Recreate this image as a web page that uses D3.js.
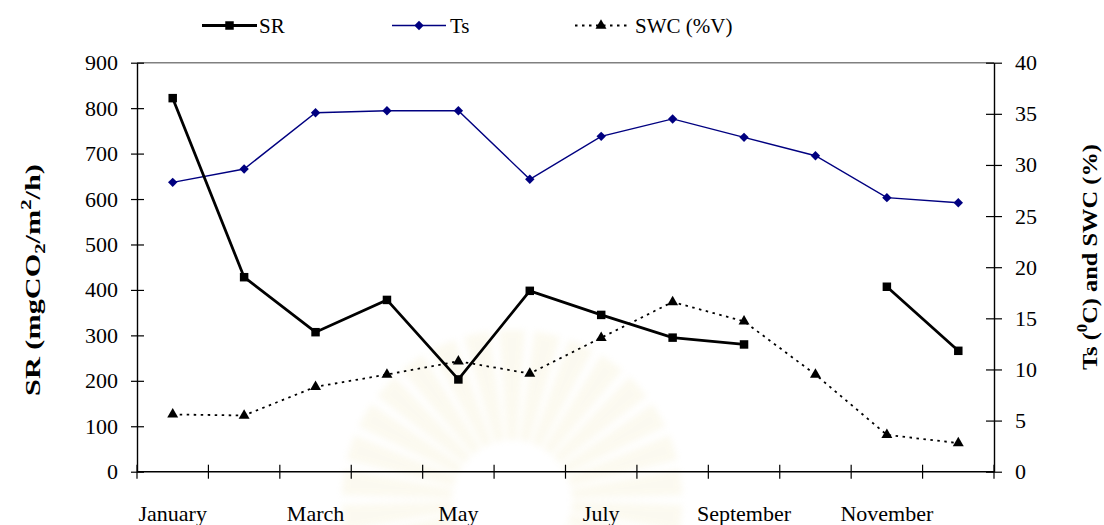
<!DOCTYPE html>
<html>
<head>
<meta charset="utf-8">
<script src="https://cdn.jsdelivr.net/npm/d3@7/dist/d3.min.js"></script>
<style>
  html, body { margin: 0; padding: 0; background: #fff; }
  svg { display: block; }
  text { font-family: "Liberation Serif", "Times New Roman", serif; fill: #000; }
</style>
</head>
<body>
<svg id="chart" width="1104" height="525"></svg>
<script>
// Monthly soil respiration, soil temperature and soil water content
const months = ["January", "February", "March", "April", "May", "June",
                "July", "August", "September", "October", "November", "December"];
const monthLabels = ["January", "", "March", "", "May", "", "July", "", "September", "", "November", ""];
const srValues  = [822, 428, 307, 378, 203, 398, 345, 295, 280, null, 407, 266];   // mgCO2/m2/h
const tsValues  = [28.3, 29.6, 35.1, 35.3, 35.3, 28.6, 32.8, 34.5, 32.7, 30.9, 26.8, 26.3]; // deg C
const swcValues = [5.6, 5.5, 8.3, 9.5, 10.8, 9.6, 13.1, 16.6, 14.7, 9.5, 3.6, 2.8];  // %V
const leftTicks  = [0, 100, 200, 300, 400, 500, 600, 700, 800, 900];
const rightTicks = [0, 5, 10, 15, 20, 25, 30, 35, 40];

const svg = d3.select("#chart");

const plot = { left: 137, right: 994, top: 62.7, bottom: 471.7 };

const x = d3.scaleBand().domain(months).range([plot.left, plot.right]).padding(0);
const yL = d3.scaleLinear().domain([0, 900]).range([plot.bottom, plot.top]);
const yR = d3.scaleLinear().domain([0, 40]).range([plot.bottom, plot.top]);
const cx = m => x(m) + x.bandwidth() / 2;

// faint seal watermark behind the plot
const defs = svg.append("defs");
defs.append("filter").attr("id", "soft").append("feGaussianBlur").attr("stdDeviation", 3);
const wm = svg.append("g").attr("transform", "translate(512,500)").attr("opacity", 0.13)
  .attr("filter", "url(#soft)");
const rays = d3.range(0, 360, 12);
wm.selectAll("path.ray").data(rays).join("path")
  .attr("class", "ray")
  .attr("d", "M-5,-60 L5,-60 L13,-170 L-13,-170 Z")
  .attr("transform", a => `rotate(${a})`)
  .attr("fill", "#e8d98f");

// plot frame: grey top edge
svg.append("line")
  .attr("x1", plot.left).attr("x2", plot.right)
  .attr("y1", plot.top).attr("y2", plot.top)
  .attr("stroke", "#808080").attr("stroke-width", 1.5);

// left axis
const axL = svg.append("g").attr("transform", `translate(${plot.left},0)`)
  .call(d3.axisLeft(yL).tickValues(leftTicks).tickSize(0).tickPadding(19));
axL.select(".domain").attr("stroke", "#000").attr("stroke-width", 1.4);
axL.selectAll(".tick text").attr("font-size", 22).attr("font-family", "Liberation Serif");
axL.selectAll(".tick").append("line").attr("x1", -6).attr("x2", 7).attr("stroke", "#000").attr("stroke-width", 1.2);

// right axis
const axR = svg.append("g").attr("transform", `translate(${plot.right},0)`)
  .call(d3.axisRight(yR).tickValues(rightTicks).tickSize(0).tickPadding(21));
axR.select(".domain").attr("stroke", "#000").attr("stroke-width", 1.4);
axR.selectAll(".tick text").attr("font-size", 22).attr("font-family", "Liberation Serif");
axR.selectAll(".tick").append("line").attr("x1", -8).attr("x2", 8).attr("stroke", "#000").attr("stroke-width", 1.2);

// bottom axis: tick marks on category boundaries, labels on every other month
const axB = svg.append("g").attr("transform", `translate(0,${plot.bottom})`);
axB.append("line").attr("x1", plot.left).attr("x2", plot.right)
  .attr("stroke", "#000").attr("stroke-width", 1.4);
const boundaries = months.map(m => x(m)).concat([plot.right]);
axB.selectAll("line.tick").data(boundaries).join("line")
  .attr("class", "tick")
  .attr("x1", d => d).attr("x2", d => d)
  .attr("y1", -7).attr("y2", 7)
  .attr("stroke", "#000").attr("stroke-width", 1.2);
axB.selectAll("text").data(months).join("text")
  .attr("x", m => cx(m)).attr("y", 49)
  .attr("text-anchor", "middle")
  .attr("font-size", 22)
  .text((m, i) => monthLabels[i]);

// axis titles, stretched along their run to the drawn span
function fitTitle(sel, cxPos, cyPos, span) {
  const len = sel.node().getComputedTextLength();
  const k = span / len;
  sel.attr("transform", `translate(${cxPos},${cyPos}) rotate(-90) scale(${k},1)`);
}

const tL = svg.append("text")
  .attr("text-anchor", "middle")
  .attr("font-size", 22).attr("font-weight", "bold");
tL.append("tspan").text("SR  (mgCO");
tL.append("tspan").attr("font-size", 15).attr("dy", 5).text("2");
tL.append("tspan").attr("dy", -5).text("/m");
tL.append("tspan").attr("font-size", 15).attr("dy", -9).text("2");
tL.append("tspan").attr("dy", 9).text("/h)");
fitTitle(tL, 40, 280, 232);

const tR = svg.append("text")
  .attr("text-anchor", "middle")
  .attr("font-size", 22).attr("font-weight", "bold");
tR.append("tspan").text("Ts (");
tR.append("tspan").attr("font-size", 15).attr("dy", -10).text("0");
tR.append("tspan").attr("dy", 10).text("C) and SWC (%)");
fitTitle(tR, 1097, 257, 226);

// series
const lineSR = d3.line().defined(d => d != null)
  .x((d, i) => cx(months[i])).y(d => yL(d));
const lineR = d3.line().x((d, i) => cx(months[i])).y(d => yR(d));

svg.append("path").datum(swcValues).attr("d", lineR)
  .attr("fill", "none").attr("stroke", "#000").attr("stroke-width", 1.8)
  .attr("stroke-dasharray", "2.5,4.5");

svg.append("path").datum(tsValues).attr("d", lineR)
  .attr("fill", "none").attr("stroke", "#000080").attr("stroke-width", 1.4);

svg.append("path").datum(srValues).attr("d", lineSR)
  .attr("fill", "none").attr("stroke", "#000").attr("stroke-width", 2.8);

const tri = d3.symbol().type(d3.symbolTriangle).size(52);
const sq = d3.symbol().type(d3.symbolSquare).size(72);
const dia = d3.symbol().type(d3.symbolSquare).size(44);   // rotated 45 degrees when placed

svg.selectAll("path.swc").data(swcValues).join("path")
  .attr("class", "swc").attr("d", tri)
  .attr("transform", (d, i) => `translate(${cx(months[i])},${yR(d)})`)
  .attr("fill", "#000");

svg.selectAll("path.ts").data(tsValues).join("path")
  .attr("class", "ts").attr("d", dia)
  .attr("transform", (d, i) => `translate(${cx(months[i])},${yR(d)}) rotate(45)`)
  .attr("fill", "#000080");

svg.selectAll("path.sr").data(srValues.map((v, i) => ({ v, i })).filter(d => d.v != null)).join("path")
  .attr("class", "sr").attr("d", sq)
  .attr("transform", d => `translate(${cx(months[d.i])},${yL(d.v)})`)
  .attr("fill", "#000");

// legend
const legendItems = [
  { label: "SR", x1: 202, x2: 257, color: "#000", width: 2.8, dash: null, sym: sq, rot: 0, tx: 259 },
  { label: "Ts", x1: 392, x2: 446, color: "#000080", width: 1.4, dash: null, sym: dia, rot: 45, tx: 450 },
  { label: "SWC (%V)", x1: 575, x2: 627, color: "#000", width: 1.8, dash: "2.5,4.5", sym: tri, rot: 0, tx: 635 }
];
const lg = svg.append("g");
legendItems.forEach(it => {
  lg.append("line").attr("x1", it.x1).attr("x2", it.x2).attr("y1", 25.5).attr("y2", 25.5)
    .attr("stroke", it.color).attr("stroke-width", it.width)
    .attr("stroke-dasharray", it.dash);
  lg.append("path").attr("d", it.sym)
    .attr("transform", `translate(${(it.x1 + it.x2) / 2},25.5) rotate(${it.rot})`)
    .attr("fill", it.color);
  lg.append("text").attr("x", it.tx).attr("y", 33).attr("font-size", 21).text(it.label);
});
</script>
</body>
</html>
